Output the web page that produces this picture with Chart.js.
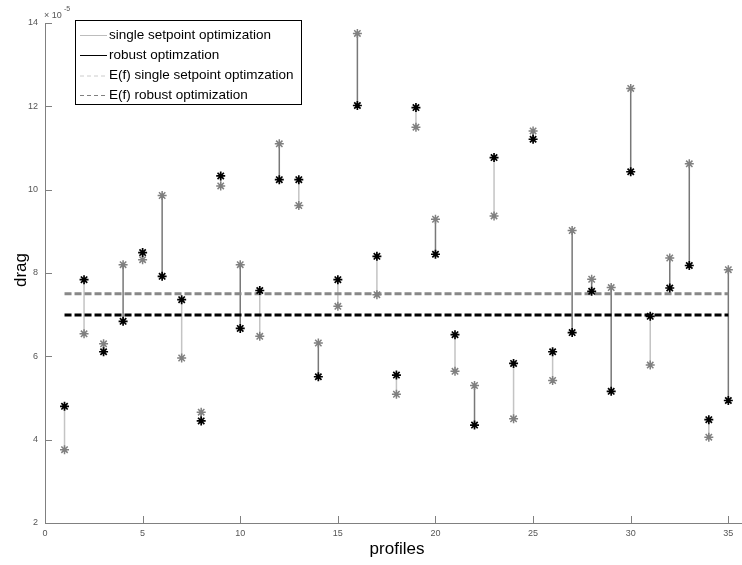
<!DOCTYPE html>
<html>
<head>
<meta charset="utf-8">
<script src="https://cdn.jsdelivr.net/npm/chart.js@4.4.1/dist/chart.umd.min.js"></script>
<style>
  html, body { margin: 0; padding: 0; background: #fff; overflow: hidden; }
  #wrap { width: 742px; height: 565px; position: relative; }
</style>
</head>
<body>
<div id="wrap"><canvas id="myChart"></canvas></div>
<script>
// profiles 1..35, drag values in units of 1e-5
const profiles = [];
for (let i = 1; i <= 35; i++) profiles.push(i);

const singleDrag = [3.76, 6.54, 6.30, 8.20, 8.32, 9.86, 5.96, 4.66, 10.09, 8.20,
	6.48, 11.10, 9.62, 6.32, 7.20, 13.75, 7.48, 5.09, 11.50, 9.29,
	5.64, 5.30, 9.37, 4.50, 11.41, 5.42, 9.02, 7.85, 7.65, 12.43,
	5.79, 8.36, 10.62, 4.06, 8.08];
const robustDrag = [4.80, 7.84, 6.11, 6.84, 8.49, 7.92, 7.36, 4.45, 10.33, 6.67,
	7.58, 10.24, 10.24, 5.51, 7.84, 12.02, 8.40, 5.55, 11.97, 8.45,
	6.52, 4.35, 10.77, 5.83, 11.21, 6.11, 6.57, 7.56, 5.16, 10.43,
	6.96, 7.64, 8.18, 4.48, 4.94];
const meanSingle = 7.50;
const meanRobust = 6.99;

const xTicks = [0, 5, 10, 15, 20, 25, 30, 35];
const yTicks = [2, 4, 6, 8, 10, 12, 14];

// vertical links, split by which run is higher (null breaks the line)
let linkLight = [];
let linkDark = [];
profiles.forEach((p, i) => {
	let target = robustDrag[i] > singleDrag[i] ? linkLight : linkDark;
	target.push({ x: p, y: singleDrag[i] });
	target.push({ x: p, y: robustDrag[i] });
	target.push({ x: p, y: null });
});

const legendItems = [
	{ text: "single setpoint optimization", color: "#bdbdbd", dash: [] },
	{ text: "robust optimzation", color: "#000000", dash: [] },
	{ text: "E(f) single setpoint optimzation", color: "#cccccc", dash: [4, 3] },
	{ text: "E(f) robust optimization", color: "#808080", dash: [4, 3] },
];

const decorPlugin = {
	id: "decor",
	afterDraw(chart) {
		const ctx = chart.ctx;
		const xs = chart.scales.x;
		const ys = chart.scales.y;
		const area = chart.chartArea;
		ctx.save();

		// tick marks pointing into the plot
		ctx.strokeStyle = "#808080";
		ctx.lineWidth = 1;
		xTicks.forEach(v => {
			let px = Math.round(xs.getPixelForValue(v)) + 0.5;
			ctx.beginPath();
			ctx.moveTo(px, area.bottom);
			ctx.lineTo(px, area.bottom - 7);
			ctx.stroke();
		});
		yTicks.forEach(v => {
			let py = Math.round(ys.getPixelForValue(v)) + 0.5;
			ctx.beginPath();
			ctx.moveTo(area.left, py);
			ctx.lineTo(area.left + 7, py);
			ctx.stroke();
		});

		// exponent label
		ctx.fillStyle = "#555";
		ctx.font = "9px 'Liberation Sans', Arial, sans-serif";
		ctx.textBaseline = "alphabetic";
		ctx.textAlign = "left";
		ctx.fillText("\u00d7 10", 44, 18);
		ctx.font = "7px 'Liberation Sans', Arial, sans-serif";
		ctx.fillText("-5", 64, 11);

		// axis titles
		ctx.fillStyle = "#000";
		ctx.font = "17px 'Liberation Sans', Arial, sans-serif";
		ctx.textAlign = "center";
		ctx.textBaseline = "middle";
		ctx.fillText("profiles", 397, 549);
		ctx.save();
		ctx.translate(21, 270);
		ctx.rotate(-Math.PI / 2);
		ctx.fillText("drag", 0, 0);
		ctx.restore();

		// legend box
		const bx = 75.5, by = 20.5, bw = 226, bh = 84;
		ctx.fillStyle = "#fff";
		ctx.fillRect(bx, by, bw, bh);
		ctx.strokeStyle = "#000";
		ctx.lineWidth = 1;
		ctx.setLineDash([]);
		ctx.strokeRect(bx, by, bw, bh);
		const rows = [35, 55, 75.5, 95];
		ctx.font = "13.5px 'Liberation Sans', Arial, sans-serif";
		ctx.textAlign = "left";
		ctx.textBaseline = "middle";
		legendItems.forEach((it, i) => {
			let y = rows[i] + 0.5;
			ctx.strokeStyle = it.color;
			ctx.setLineDash(it.dash);
			ctx.beginPath();
			ctx.moveTo(80, y);
			ctx.lineTo(107, y);
			ctx.stroke();
			ctx.setLineDash([]);
			ctx.fillStyle = "#000";
			ctx.fillText(it.text, 109, rows[i]);
		});

		ctx.restore();
	}
};

const ctx = document.getElementById("myChart").getContext("2d");
const myChart = new Chart(ctx, {
	type: "scatter",
	data: {
		datasets: [
			{
				label: "links light",
				type: "line",
				data: linkLight,
				borderColor: "#c4c4c4",
				borderWidth: 1.5,
				pointRadius: 0,
				showLine: true,
				spanGaps: false,
				order: 5,
			},
			{
				label: "links dark",
				type: "line",
				data: linkDark,
				borderColor: "#787878",
				borderWidth: 1.5,
				pointRadius: 0,
				showLine: true,
				spanGaps: false,
				order: 5,
			},
			{
				label: "E(f) single setpoint optimzation",
				type: "line",
				data: [{ x: profiles[0], y: meanSingle }, { x: profiles[profiles.length - 1], y: meanSingle }],
				borderColor: "#888888",
				borderWidth: 3,
				borderDash: [7, 3],
				pointRadius: 0,
				showLine: true,
				order: 4,
			},
			{
				label: "E(f) robust optimization",
				type: "line",
				data: [{ x: profiles[0], y: meanRobust }, { x: profiles[profiles.length - 1], y: meanRobust }],
				borderColor: "#000000",
				borderWidth: 3,
				borderDash: [7, 3],
				pointRadius: 0,
				showLine: true,
				order: 4,
			},
			{
				label: "single setpoint optimization",
				data: profiles.map((p, i) => ({ x: p, y: singleDrag[i] })),
				pointStyle: "star",
				pointRadius: 4.5,
				borderColor: "#808080",
				backgroundColor: "#808080",
				borderWidth: 1.5,
				order: 2,
			},
			{
				label: "robust optimzation",
				data: profiles.map((p, i) => ({ x: p, y: robustDrag[i] })),
				pointStyle: "star",
				pointRadius: 4.5,
				borderColor: "#000000",
				backgroundColor: "#000000",
				borderWidth: 1.7,
				order: 1,
			},
		],
	},
	options: {
		responsive: true,
		maintainAspectRatio: false,
		animation: false,
		layout: { autoPadding: false, padding: { top: 23, right: 0, bottom: 0, left: 0 } },
		plugins: {
			legend: { display: false },
			tooltip: { enabled: false },
		},
		scales: {
			x: {
				type: "linear",
				min: 0,
				max: 35.7,
				afterBuildTicks: (scale) => {
					scale.ticks = xTicks.map(v => ({ value: v }));
				},
				afterFit: (scale) => {
					scale.height = 42;
					scale.paddingLeft = 0;
					scale.paddingRight = 0;
				},
				ticks: {
					color: "#555",
					font: { size: 9, family: "'Liberation Sans', Arial, sans-serif" },
					padding: 5,
					maxRotation: 0,
				},
				grid: { drawOnChartArea: false, drawTicks: false },
				border: { color: "#808080", width: 1 },
			},
			y: {
				min: 2,
				max: 14,
				afterBuildTicks: (scale) => {
					scale.ticks = yTicks.map(v => ({ value: v }));
				},
				afterFit: (scale) => {
					scale.width = 45;
					scale.paddingTop = 0;
					scale.paddingBottom = 0;
				},
				ticks: {
					color: "#555",
					font: { size: 9, family: "'Liberation Sans', Arial, sans-serif" },
					padding: 7,
				},
				grid: { drawOnChartArea: false, drawTicks: false },
				border: { color: "#808080", width: 1 },
			},
		},
	},
	plugins: [decorPlugin],
});
</script>
</body>
</html>
